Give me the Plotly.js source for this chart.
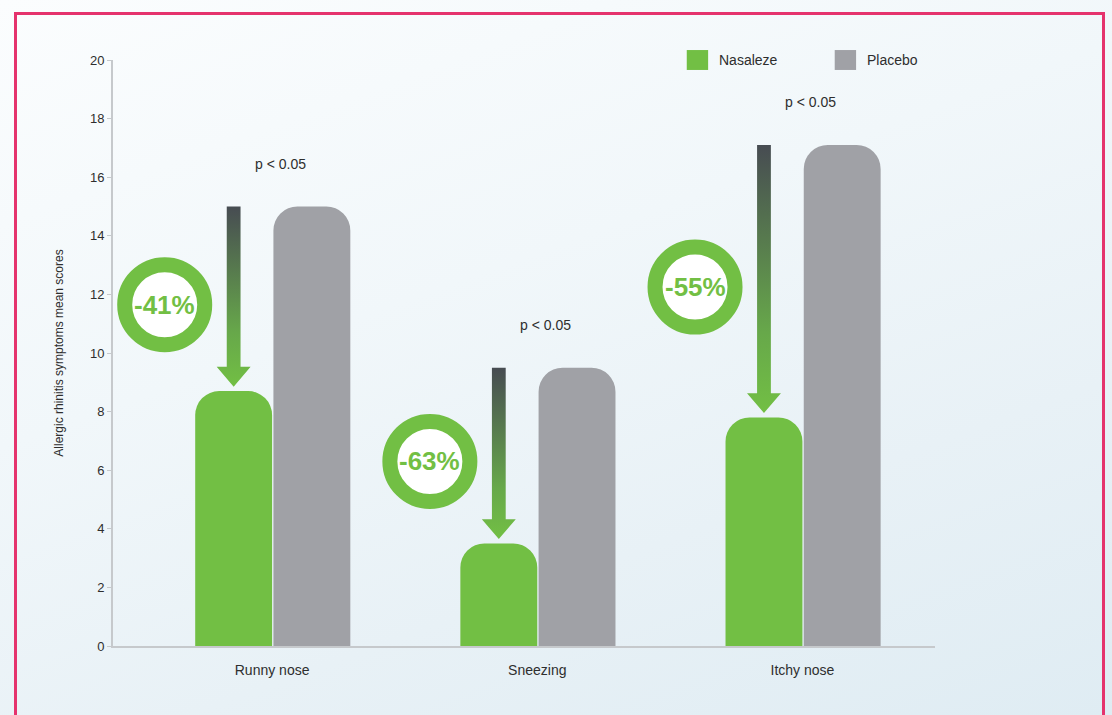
<!DOCTYPE html>
<html>
<head>
<meta charset="utf-8">
<script src="https://cdn.plot.ly/plotly-3.0.1.min.js"></script>
<style>
  html, body { margin:0; padding:0; width:1112px; height:715px; overflow:hidden; }
  body { background: linear-gradient(160deg, #fbfdfe 0%, #f1f7fa 40%, #e8f1f6 70%, #dfecf3 100%); position:relative; }
  #frame { position:absolute; left:14px; top:12px; width:1091px; height:720px; border:3px solid #e5336d; box-sizing:border-box; pointer-events:none; }
  #chart { position:absolute; left:0; top:0; width:1112px; height:715px; }
</style>
</head>
<body>
<div id="frame"></div>
<div id="chart"></div>
<script>
// ---- data ----
const categories = ['Runny nose', 'Sneezing', 'Itchy nose'];
const seriesNames = ['Nasaleze', 'Placebo'];
const nasaleze = [8.7, 3.5, 7.8];
const placebo = [15.0, 9.5, 17.1];
const reductions = ['-41%', '-63%', '-55%'];
const pValues = ['p < 0.05', 'p < 0.05', 'p < 0.05'];
const yTicks = [0, 2, 4, 6, 8, 10, 12, 14, 16, 18, 20];

// ---- styles ----
const GREEN = '#72bf44';
const GREY = '#a0a1a6';
const DARK = '#474c52';
const FONT = 'Liberation Sans, Arial, sans-serif';
const BW = 0.29;          // bar width in x units
const idx = categories.map((c, i) => i);

const traces = [
  { type:'bar', name: seriesNames[0], x: idx, y: nasaleze, width: BW, offset: -BW,
    marker:{ color: GREEN, cornerradius: 24 }, hoverinfo:'skip', showlegend:false },
  { type:'bar', name: seriesNames[1], x: idx, y: placebo, width: BW, offset: 0.005,
    marker:{ color: GREY, cornerradius: 24 }, hoverinfo:'skip', showlegend:false }
];

// gradient arrows from placebo level down to Nasaleze level
const SW = 0.026, HW = 0.064, HL = 0.68;
idx.forEach(i => {
  const cx = i - BW / 2;
  const top = placebo[i];
  const tip = nasaleze[i] + 0.15;
  traces.push({
    type:'scatter', mode:'lines', showlegend:false, hoverinfo:'skip',
    x:[cx-SW, cx+SW, cx+SW, cx+HW, cx, cx-HW, cx-SW, cx-SW],
    y:[top, top, tip+HL, tip+HL, tip, tip+HL, tip+HL, top],
    fill:'toself', line:{ width:0, color:'rgba(0,0,0,0)' },
    fillgradient:{ type:'vertical', colorscale:[[0, GREEN], [0.3, '#67a84a'], [1, DARK]] }
  });
});

const shapes = [];
const annotations = [];
idx.forEach(i => {
  const cx = i - BW / 2 - 0.26;
  const cy = (placebo[i] + nasaleze[i]) / 2 - 0.2;
  shapes.push({
    type:'circle', xref:'x', yref:'y', xsizemode:'pixel', ysizemode:'pixel',
    xanchor: cx, yanchor: cy, x0:-40, x1:40, y0:-40, y1:40,
    line:{ color: GREEN, width: 15 }, fillcolor:'#ffffff', layer:'above'
  });
  annotations.push({
    x: cx, y: cy, xref:'x', yref:'y', text: reductions[i], showarrow:false,
    font:{ family: FONT, size:26, color: GREEN, weight:'bold' }
  });
  annotations.push({
    x: i + 0.03, y: placebo[i] + 1.45, xref:'x', yref:'y', text: pValues[i], showarrow:false,
    font:{ family: FONT, size:14, color:'#2e2e2e' }
  });
});

// custom legend (square swatches)
const legendColors = [GREEN, GREY];
const legendX = [0.698, 0.878];
seriesNames.forEach((n, k) => {
  shapes.push({
    type:'rect', xref:'paper', yref:'paper', x0: legendX[k], x1: legendX[k] + 0.026,
    y0: 0.983, y1: 1.017, fillcolor: legendColors[k], line:{ width:0 }
  });
  annotations.push({
    xref:'paper', yref:'paper', x: legendX[k] + 0.037, y: 1.0, xanchor:'left', yanchor:'middle',
    text: n, showarrow:false, font:{ family: FONT, size:14, color:'#2e2e2e' }
  });
});

const layout = {
  width:1112, height:715,
  margin:{ l:113, r:177, t:60, b:69 },
  paper_bgcolor:'rgba(0,0,0,0)', plot_bgcolor:'rgba(0,0,0,0)',
  font:{ family: FONT, color:'#333333' },
  barmode:'overlay',
  xaxis:{
    range:[-0.6, 2.5], tickvals: idx, ticktext: categories,
    showgrid:false, zeroline:false, showline:true, linecolor:'#c6c9cc', linewidth:2,
    ticks:'outside', ticklen:10, tickcolor:'rgba(0,0,0,0)', tickfont:{ size:14, color:'#2e2e2e' }, fixedrange:true
  },
  yaxis:{
    range:[0, 20], tickvals: yTicks, showgrid:false, zeroline:false,
    showline:true, linecolor:'#c6c9cc', linewidth:2,
    ticks:'outside', ticklen:4, tickcolor:'#c6c9cc', tickfont:{ size:13, color:'#2e2e2e' },
    title:{ text:'Allergic rhinitis symptoms mean scores', font:{ size:12, color:'#2e2e2e' }, standoff:24 },
    fixedrange:true
  },
  shapes: shapes,
  annotations: annotations,
  showlegend:false
};

Plotly.newPlot('chart', traces, layout, { displayModeBar:false, staticPlot:true });
</script>
</body>
</html>
